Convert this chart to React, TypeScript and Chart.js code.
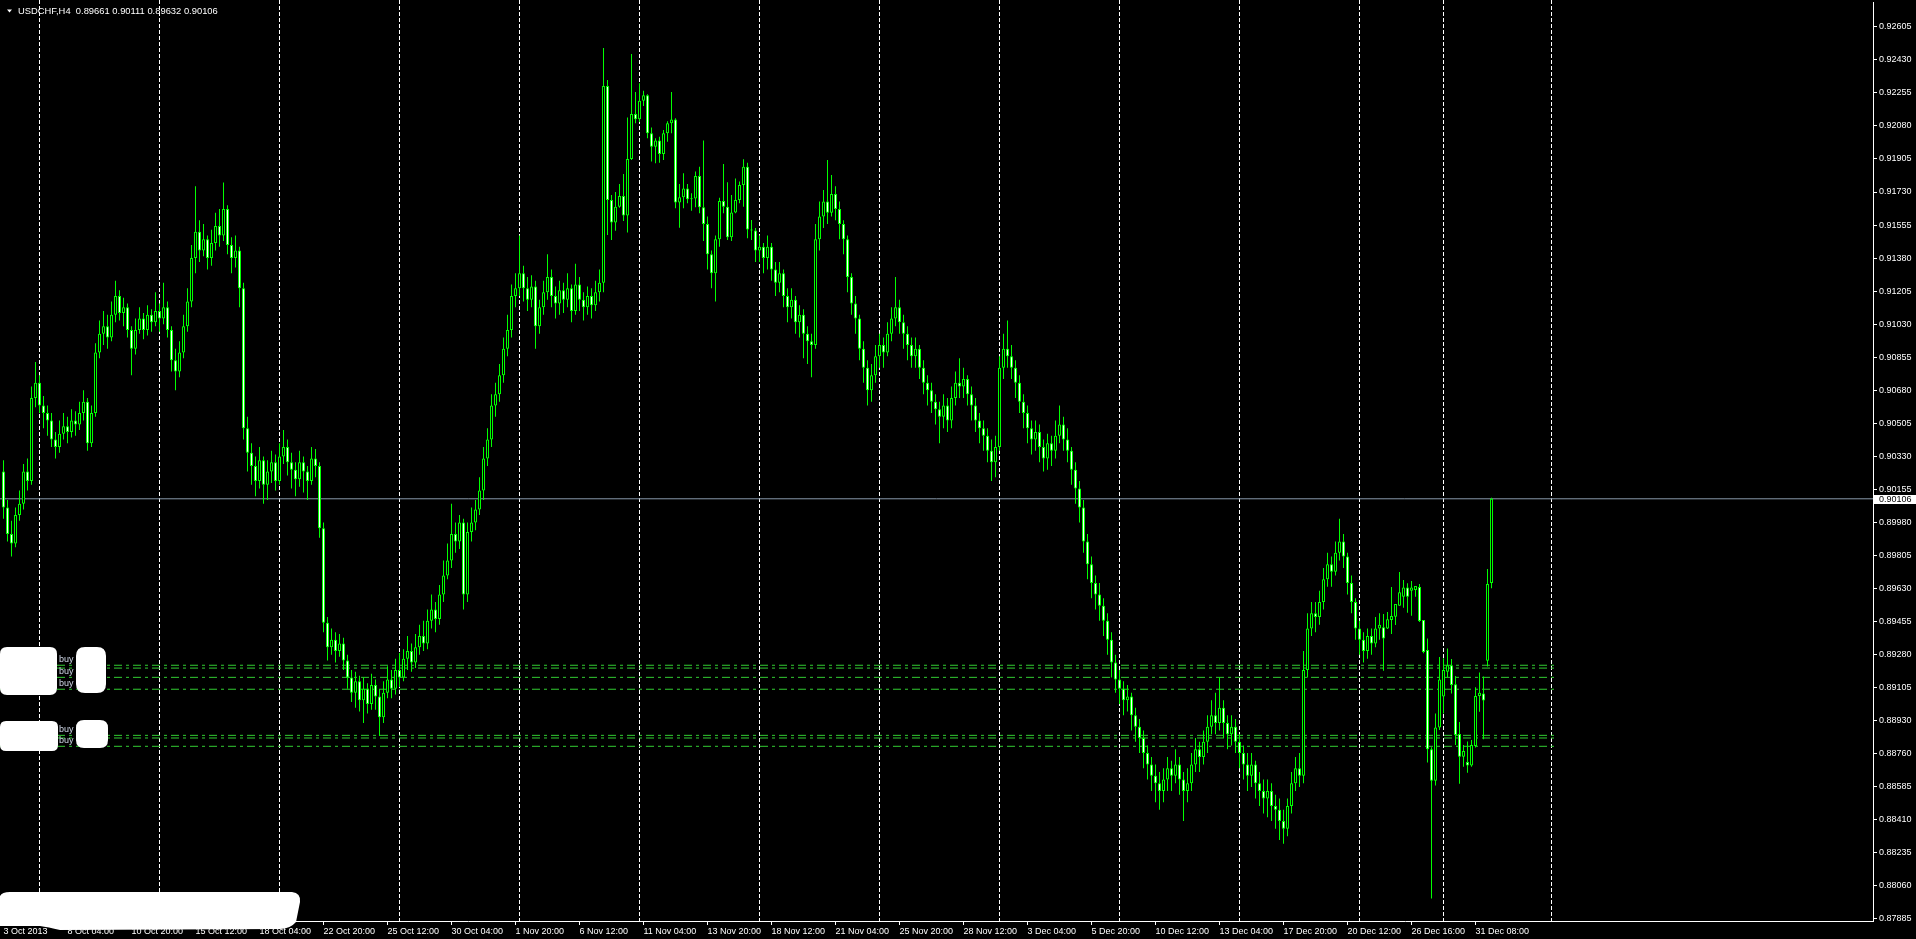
import React, { useEffect, useRef } from "react";
import Chart from "chart.js/auto";

// ---------------- DATA (prices in 1e-5 units, H4 bars) ----------------
const SYMBOL = "USDCHF";
const TIMEFRAME = "H4";

const opens = [
  90250, 90060, 89920, 89870, 90020, 90080, 90250, 90200, 90640, 90720,
  90600, 90560, 90520, 90420, 90380, 90450, 90490, 90460, 90520, 90500,
  90560, 90620, 90400, 90560, 90880, 90980, 91020, 90960, 91080, 91180,
  91090, 91120, 91000, 90900, 91000, 91060, 91000, 91080, 91040, 91100,
  91060, 91120, 91000, 90840, 90780, 90880, 91020, 91150, 91380, 91520,
  91420, 91480, 91380, 91460, 91550, 91500, 91640, 91450, 91380, 91420,
  91220, 90480, 90350, 90280, 90200, 90310, 90180, 90250, 90300, 90200,
  90330, 90380, 90300, 90260, 90210, 90300, 90250, 90200, 90320, 90280,
  89950, 89450, 89320, 89360, 89300, 89340, 89250, 89160, 89080, 89140,
  89040, 89100, 89020, 89120, 89060, 88950, 89080, 89150, 89100, 89200,
  89160, 89260, 89300, 89240, 89320, 89380, 89340, 89460, 89520, 89470,
  89600, 89700, 89780, 89920, 89880, 89980, 89600, 89930, 89980, 90050,
  90150, 90320, 90420, 90600, 90660, 90760, 90900, 91000, 91180, 91220,
  91300, 91220, 91160, 91230, 91020, 91120, 91200, 91280, 91180, 91140,
  91210, 91160, 91220, 91100, 91240, 91160, 91120, 91180, 91130, 91200,
  91250, 92291, 91688, 91568, 91652, 91709, 91605, 91905, 92143, 92115,
  92213, 92242, 92041, 91970, 92002, 91931, 92041, 92094, 92114, 91674,
  91702, 91749, 91691, 91696, 91815, 91649, 91561, 91400, 91300, 91480,
  91682, 91652, 91490, 91622, 91688, 91767, 91864, 91532, 91526, 91420,
  91440, 91380, 91440, 91320, 91250, 91300, 91180, 91120, 91160, 91040,
  91080, 90980, 90940, 90920, 91480, 91600, 91680, 91620, 91720, 91640,
  91560, 91480, 91280, 91140, 91060, 90900, 90800, 90680, 90760, 90860,
  90920, 90880, 90980, 91060, 91120, 91040, 90980, 90920, 90860, 90900,
  90800, 90720, 90680, 90620, 90580, 90540, 90600, 90520, 90640, 90720,
  90700, 90740, 90660, 90600, 90520, 90480, 90440, 90360, 90300, 90380,
  90800, 90900, 90860, 90800, 90720, 90620, 90560, 90480, 90420, 90460,
  90380, 90320, 90400, 90360, 90440, 90500, 90420, 90360, 90260, 90160,
  90060, 89880, 89760, 89660, 89600, 89540, 89460, 89360, 89240, 89150,
  89100, 89040, 89060, 88960, 88900, 88840, 88760, 88700, 88640, 88600,
  88560, 88620, 88680, 88640, 88700, 88620, 88560, 88600, 88700, 88780,
  88740, 88820, 88900, 88960, 88920, 89000, 88920, 88860, 88900, 88820,
  88760, 88700, 88640, 88700, 88600, 88560, 88520, 88560, 88480, 88460,
  88400, 88360, 88480, 88600, 88680, 88640, 89200, 89420, 89500, 89480,
  89560, 89680, 89760, 89720, 89820, 89880, 89800, 89660, 89560, 89420,
  89360, 89300, 89380, 89340, 89420, 89426, 89420, 89464, 89482, 89540,
  89588, 89637, 89620, 89623, 89639, 89464, 89306, 88780, 88614, 88896,
  89059, 89191, 89225, 89124, 88861, 88741, 88713, 88694, 88798, 89062,
  89076, 89249, 89661,
];

const highs = [
  90310, 90100, 89990, 90060, 90150, 90290, 90320, 90700, 90830, 90760,
  90650, 90600, 90560, 90460, 90520, 90560, 90540, 90580, 90570, 90620,
  90680, 90640, 90600, 90930, 91050, 91100, 91080, 91150, 91260, 91210,
  91170, 91140, 91020, 91060, 91120, 91090, 91130, 91110, 91200, 91140,
  91250, 91150, 91020, 90900, 90940, 91080, 91220, 91450, 91760, 91580,
  91560, 91500, 91530, 91620, 91640, 91780, 91660, 91490, 91500, 91440,
  91250, 90540, 90400, 90330, 90380, 90330, 90310, 90360, 90340, 90400,
  90470, 90420, 90350, 90300, 90360, 90330, 90280, 90380, 90370, 90300,
  89980, 89480, 89420, 89400, 89390, 89370, 89280, 89200, 89190, 89170,
  89160, 89130, 89180, 89150, 89100, 89140, 89220, 89200, 89260, 89290,
  89310, 89380, 89340, 89390, 89440, 89460, 89520, 89600, 89560, 89650,
  89780, 89870, 90080, 89980, 90020, 90000, 89980, 90060, 90100, 90220,
  90380, 90480, 90660, 90720, 90820, 90960, 91080, 91240, 91300, 91500,
  91340, 91280, 91290, 91260, 91160, 91260, 91400, 91320, 91230, 91260,
  91250, 91300, 91240, 91350, 91280, 91200, 91230, 91220, 91260, 91320,
  92492, 92323, 91714, 91730, 91772, 91825, 92125, 92460, 92259, 92305,
  92266, 92248, 92072, 92014, 92023, 92058, 92104, 92259, 92120, 91772,
  91829, 91772, 91723, 91838, 91864, 92002, 91600, 91420, 91500, 91700,
  91878, 91781, 91714, 91802, 91785, 91903, 91885, 91582, 91540, 91500,
  91460, 91500, 91460, 91360, 91360, 91320, 91220, 91220, 91180, 91130,
  91110, 91020, 90980, 91560, 91680, 91740, 91900, 91820, 91760, 91680,
  91580, 91500, 91300, 91180, 91080, 90940, 90840, 90820, 90920, 90980,
  90960, 91040, 91120, 91280, 91160, 91080, 91020, 90960, 90960, 90920,
  90840, 90760, 90720, 90660, 90620, 90660, 90640, 90700, 90780, 90850,
  90800, 90760, 90700, 90640, 90560, 90520, 90480, 90420, 90440, 90860,
  90980, 91050, 90920, 90840, 90760, 90660, 90600, 90520, 90520, 90500,
  90420, 90450, 90440, 90520, 90600, 90540, 90480, 90380, 90300, 90200,
  90100, 89920, 89800, 89700, 89660, 89580, 89500, 89400, 89280, 89200,
  89140, 89120, 89080, 89000, 88940, 88880, 88800, 88740, 88700, 88660,
  88680, 88740, 88720, 88780, 88740, 88660, 88680, 88760, 88840, 88820,
  88880, 88960, 89040, 89080, 89160, 89040, 88960, 88960, 88940, 88860,
  88800, 88760, 88760, 88720, 88660, 88620, 88620, 88600, 88540, 88520,
  88460, 88520, 88660, 88740, 88760, 89300, 89500, 89560, 89560, 89620,
  89740, 89820, 89800, 89880, 90000, 89920, 89820, 89700, 89580, 89460,
  89400, 89420, 89420, 89480, 89500, 89496, 89507, 89639, 89549, 89719,
  89676, 89659, 89671, 89644, 89655, 89464, 89367, 88791, 88970, 89269,
  89262, 89314, 89258, 89168, 88925, 88803, 88821, 88829, 89108, 89186,
  89166, 89734, 90111,
];

const lows = [
  90000, 89880, 89800, 89850, 89990, 90050, 90150, 90180, 90590, 90560,
  90480, 90440, 90380, 90320, 90350, 90420, 90400, 90430, 90440, 90470,
  90520, 90360, 90380, 90540, 90850, 90920, 90900, 90940, 91040, 91050,
  91020, 90960, 90760, 90870, 90980, 90950, 90970, 90990, 91020, 90990,
  91030, 90960, 90780, 90680, 90750, 90850, 90990, 91120, 91300, 91360,
  91390, 91320, 91340, 91420, 91440, 91470, 91400, 91300, 91330, 91120,
  90420, 90250, 90180, 90120, 90160, 90080, 90100, 90190, 90150, 90180,
  90290, 90230, 90160, 90120, 90170, 90140, 90100, 90180, 90220, 89900,
  89400, 89250, 89280, 89240, 89270, 89200, 89100, 89030, 89000, 88980,
  88920, 88970, 88990, 88990, 88850, 88920, 89050, 89050, 89070, 89110,
  89140, 89200, 89190, 89210, 89280, 89300, 89310, 89420, 89400, 89440,
  89560, 89680, 89740, 89820, 89840, 89520, 89560, 89880, 89940, 90020,
  90100, 90280, 90380, 90540, 90620, 90720, 90860, 90960, 91120, 91180,
  91150, 91100, 91120, 90900, 90980, 91080, 91160, 91120, 91060, 91080,
  91090, 91120, 91040, 91080, 91100, 91050, 91080, 91060, 91100, 91150,
  91200, 91502, 91476, 91525, 91647, 91577, 91515, 91900, 92094, 92100,
  92185, 92014, 91891, 91882, 91885, 91900, 91996, 92041, 91644, 91541,
  91644, 91670, 91631, 91649, 91617, 91470, 91320, 91220, 91150, 91440,
  91617, 91476, 91470, 91617, 91670, 91652, 91485, 91476, 91360, 91360,
  91300, 91320, 91260, 91180, 91200, 91120, 91040, 91060, 90980, 90960,
  90850, 90820, 90750, 90900, 91420, 91540, 91560, 91600, 91580, 91480,
  91400, 91200, 91080, 90980, 90840, 90720, 90600, 90620, 90720, 90800,
  90800, 90860, 90940, 91020, 90980, 90900, 90840, 90800, 90800, 90740,
  90660, 90600, 90560, 90500, 90400, 90480, 90460, 90480, 90600, 90640,
  90640, 90600, 90520, 90460, 90400, 90360, 90300, 90200, 90220, 90360,
  90740, 90800, 90740, 90640, 90560, 90480, 90400, 90340, 90360, 90300,
  90250, 90260, 90280, 90320, 90400, 90360, 90300, 90180, 90080, 89980,
  89820, 89680, 89580, 89520, 89460, 89380, 89280, 89160, 89080, 89020,
  88960, 88980, 88880, 88820, 88760, 88680, 88620, 88560, 88500, 88460,
  88500, 88560, 88560, 88600, 88540, 88400, 88500, 88560, 88660, 88660,
  88700, 88760, 88860, 88860, 88880, 88840, 88780, 88800, 88760, 88680,
  88620, 88560, 88580, 88520, 88480, 88440, 88420, 88400, 88360, 88300,
  88280, 88320, 88440, 88560, 88580, 88600, 89160, 89380, 89400, 89440,
  89520, 89640, 89640, 89700, 89780, 89740, 89600, 89500, 89360, 89280,
  89240, 89260, 89280, 89320, 89360, 89196, 89417, 89390, 89438, 89540,
  89530, 89503, 89487, 89588, 89454, 89288, 88710, 87990, 88588, 88882,
  88970, 89161, 89076, 88803, 88598, 88688, 88656, 88688, 88789, 88979,
  88833, 89218, 89632,
];

const closes = [
  90060, 89920, 89870, 90020, 90080, 90250, 90200, 90640, 90720, 90600,
  90560, 90520, 90420, 90380, 90450, 90490, 90460, 90520, 90500, 90560,
  90620, 90400, 90560, 90880, 90980, 91020, 90960, 91080, 91180, 91090,
  91120, 91000, 90900, 91000, 91060, 91000, 91080, 91040, 91100, 91060,
  91120, 91000, 90840, 90780, 90880, 91020, 91150, 91380, 91520, 91420,
  91480, 91380, 91460, 91550, 91500, 91640, 91450, 91380, 91420, 91220,
  90480, 90350, 90280, 90200, 90310, 90180, 90250, 90300, 90200, 90330,
  90380, 90300, 90260, 90210, 90300, 90250, 90200, 90320, 90280, 89950,
  89450, 89320, 89360, 89300, 89340, 89250, 89160, 89080, 89140, 89040,
  89100, 89020, 89120, 89060, 88950, 89080, 89150, 89100, 89200, 89160,
  89260, 89300, 89240, 89320, 89380, 89340, 89460, 89520, 89470, 89600,
  89700, 89780, 89920, 89880, 89980, 89600, 89930, 89980, 90050, 90150,
  90320, 90420, 90600, 90660, 90760, 90900, 91000, 91180, 91220, 91300,
  91220, 91160, 91230, 91020, 91120, 91200, 91280, 91180, 91140, 91210,
  91160, 91220, 91100, 91240, 91160, 91120, 91180, 91130, 91200, 91250,
  92291, 91688, 91568, 91652, 91709, 91605, 91905, 92143, 92115, 92213,
  92242, 92041, 91970, 92002, 91931, 92041, 92094, 92114, 91674, 91702,
  91749, 91691, 91696, 91815, 91649, 91561, 91400, 91300, 91480, 91682,
  91652, 91490, 91622, 91688, 91767, 91864, 91532, 91526, 91420, 91440,
  91380, 91440, 91320, 91250, 91300, 91180, 91120, 91160, 91040, 91080,
  90980, 90940, 90920, 91480, 91600, 91680, 91620, 91720, 91640, 91560,
  91480, 91280, 91140, 91060, 90900, 90800, 90680, 90760, 90860, 90920,
  90880, 90980, 91060, 91120, 91040, 90980, 90920, 90860, 90900, 90800,
  90720, 90680, 90620, 90580, 90540, 90600, 90520, 90640, 90720, 90700,
  90740, 90660, 90600, 90520, 90480, 90440, 90360, 90300, 90380, 90800,
  90900, 90860, 90800, 90720, 90620, 90560, 90480, 90420, 90460, 90380,
  90320, 90400, 90360, 90440, 90500, 90420, 90360, 90260, 90160, 90060,
  89880, 89760, 89660, 89600, 89540, 89460, 89360, 89240, 89150, 89100,
  89040, 89060, 88960, 88900, 88840, 88760, 88700, 88640, 88600, 88560,
  88620, 88680, 88640, 88700, 88620, 88560, 88600, 88700, 88780, 88740,
  88820, 88900, 88960, 88920, 89000, 88920, 88860, 88900, 88820, 88760,
  88700, 88640, 88700, 88600, 88560, 88520, 88560, 88480, 88460, 88400,
  88360, 88480, 88600, 88680, 88640, 89200, 89420, 89500, 89480, 89560,
  89680, 89760, 89720, 89820, 89880, 89800, 89660, 89560, 89420, 89360,
  89300, 89380, 89340, 89420, 89440, 89366, 89468, 89486, 89549, 89611,
  89637, 89588, 89637, 89644, 89459, 89295, 88780, 88614, 88896, 89150,
  89200, 89225, 89120, 88856, 88741, 88771, 88694, 88803, 89062, 89080,
  89038, 89655, 90106,
];

// time-axis labels (one every 16 bars) and the bar index each sits on
const timeLabels = [
  "3 Oct 2013", "8 Oct 04:00", "10 Oct 20:00", "15 Oct 12:00", "18 Oct 04:00",
  "22 Oct 20:00", "25 Oct 12:00", "30 Oct 04:00", "1 Nov 20:00", "6 Nov 12:00",
  "11 Nov 04:00", "13 Nov 20:00", "18 Nov 12:00", "21 Nov 04:00", "25 Nov 20:00",
  "28 Nov 12:00", "3 Dec 04:00", "5 Dec 20:00", "10 Dec 12:00", "13 Dec 04:00",
  "17 Dec 20:00", "20 Dec 12:00", "26 Dec 16:00", "31 Dec 08:00",
];
const labelBars = [
  0, 16, 32, 48, 64, 80, 96, 112, 128, 144, 160, 176,
  192, 208, 224, 240, 256, 272, 288, 304, 320, 336, 352, 368,
];
// vertical period separators (bar index)
const gridBars = [9, 39, 69, 99, 129, 159, 189, 219, 249, 279, 309, 339, 360, 387];

// price-scale labels
const priceTicks = [
  0.92605, 0.9243, 0.92255, 0.9208, 0.91905, 0.9173, 0.91555, 0.9138, 0.91205, 0.9103,
  0.90855, 0.9068, 0.90505, 0.9033, 0.90155, 0.8998, 0.89805, 0.8963, 0.89455, 0.8928,
  0.89105, 0.8893, 0.8876, 0.88585, 0.8841, 0.88235, 0.8806, 0.87885,
];

const bidPrice = 0.90106;
// open "buy" order levels
const buyLevels = [0.89225, 0.8921, 0.89161, 0.89098, 0.88854, 0.8884, 0.88796];
const buyLabelLevels = [0.89225, 0.89161, 0.89098, 0.88854, 0.88796];

// ---------------- STYLE ----------------
const FONT = "'Liberation Sans', Arial, sans-serif";
const CANDLE = "#00ff00";
const BUY_LINE = "#32cd32";
const BID_LINE = "#8899aa";
const X_MIN = -0.875;
const X_MAX = 467.375;
const Y_MIN = 0.878713;
const Y_MAX = 0.927357;
const BUY_LINE_END = 388.4;

const redactions = [
  { x: 0, y: 647, w: 57, h: 48, r: 7 },
  { x: 76, y: 647, w: 30, h: 46, r: 9 },
  { x: 0, y: 721, w: 58, h: 30, r: 6 },
  { x: 76, y: 720, w: 32, h: 28, r: 8 },
];

function roundRect(ctx: CanvasRenderingContext2D, x: number, y: number, w: number, h: number, r: number) {
  ctx.beginPath();
  ctx.moveTo(x + r, y);
  ctx.lineTo(x + w - r, y);
  ctx.quadraticCurveTo(x + w, y, x + w, y + r);
  ctx.lineTo(x + w, y + h - r);
  ctx.quadraticCurveTo(x + w, y + h, x + w - r, y + h);
  ctx.lineTo(x + r, y + h);
  ctx.quadraticCurveTo(x, y + h, x, y + h - r);
  ctx.lineTo(x, y + r);
  ctx.quadraticCurveTo(x, y, x + r, y);
  ctx.closePath();
  ctx.fill();
}

const mtDecor = {
  id: "mtDecor",
  beforeDatasetsDraw(chart: any) {
    const { ctx, chartArea, scales } = chart;
    const xs = scales.x;
    ctx.save();
    ctx.strokeStyle = "#ffffff";
    ctx.lineWidth = 1;
    ctx.setLineDash([4, 2]);
    for (const b of gridBars) {
      const px = Math.round(xs.getPixelForValue(b) - 0.5) + 0.5;
      if (px > chartArea.right) continue;
      ctx.beginPath();
      ctx.moveTo(px, 0);
      ctx.lineTo(px, chartArea.bottom);
      ctx.stroke();
    }
    ctx.restore();
  },
  afterDraw(chart: any) {
    const { ctx, scales } = chart;
    const ys = scales.y;
    ctx.save();
    // order labels
    ctx.font = `9px ${FONT}`;
    ctx.textAlign = "left";
    ctx.textBaseline = "alphabetic";
    ctx.fillStyle = "#d0d8e8";
    for (const lv of buyLabelLevels) {
      ctx.fillText("buy", 59, Math.round(ys.getPixelForValue(lv)) - 3);
    }
    // white redaction marks
    ctx.fillStyle = "#ffffff";
    for (const b of redactions) roundRect(ctx, b.x, b.y, b.w, b.h, b.r);
    ctx.beginPath();
    ctx.moveTo(0, 896);
    ctx.quadraticCurveTo(2, 892, 10, 892);
    ctx.lineTo(292, 892);
    ctx.quadraticCurveTo(301, 893, 300, 902);
    ctx.lineTo(296, 922);
    ctx.quadraticCurveTo(290, 929, 280, 929);
    ctx.lineTo(60, 930);
    ctx.quadraticCurveTo(48, 927, 40, 926);
    ctx.lineTo(0, 926);
    ctx.closePath();
    ctx.fill();
    // header
    ctx.fillStyle = "#ffffff";
    ctx.beginPath();
    ctx.moveTo(7, 9.5);
    ctx.lineTo(12, 9.5);
    ctx.lineTo(9.5, 12.5);
    ctx.closePath();
    ctx.fill();
    const n = closes.length - 1;
    const f = (v: number) => (v / 100000).toFixed(5);
    ctx.font = `9.4px ${FONT}`;
    ctx.textBaseline = "alphabetic";
    ctx.fillText(
      `${SYMBOL},${TIMEFRAME}  ${f(opens[n])} ${f(highs[n])} ${f(lows[n])} ${f(closes[n])}`,
      18,
      14
    );
    // bid price box on the price scale
    ctx.font = `9px ${FONT}`;
    const by = Math.round(ys.getPixelForValue(bidPrice));
    ctx.fillStyle = "#ffffff";
    ctx.fillRect(1874, by - 4, 42, 9);
    ctx.fillStyle = "#000000";
    ctx.textBaseline = "middle";
    ctx.fillText(bidPrice.toFixed(5), 1879, by + 0.5);
    ctx.restore();
  },
};

export default function App() {
  const ref = useRef<HTMLCanvasElement>(null);

  useEffect(() => {
    document.body.style.margin = "0";
    document.body.style.background = "#000";
    const canvas = ref.current;
    if (!canvas) return;
    const idx = closes.map((_, i) => i);
    const p = (v: number) => v / 100000;

    const bodyData = idx.map((i) => ({ x: i, y: [p(opens[i]), p(closes[i])] }));
    const wickData = idx.map((i) => ({ x: i, y: [p(lows[i]), p(highs[i])] }));
    const bodyFill = idx.map((i) => (closes[i] >= opens[i] ? "#000000" : "#ffffff"));

    const lineDatasets: any[] = buyLevels.map((lv) => ({
      type: "line",
      data: [
        { x: X_MIN, y: lv },
        { x: BUY_LINE_END, y: lv },
      ],
      borderColor: BUY_LINE,
      borderWidth: 1,
      borderDash: [8, 4, 3, 4],
      pointRadius: 0,
      pointHoverRadius: 0,
      fill: false,
      order: 3,
    }));

    const chart = new Chart(canvas, {
      type: "bar",
      data: {
        datasets: [
          {
            data: bodyData as any,
            backgroundColor: bodyFill,
            borderColor: CANDLE,
            borderWidth: 1,
            borderSkipped: false,
            barThickness: 3,
            minBarLength: 1,
            grouped: false,
            inflateAmount: 0,
            order: 0,
          } as any,
          {
            data: wickData as any,
            backgroundColor: CANDLE,
            borderWidth: 0,
            barThickness: 1,
            grouped: false,
            inflateAmount: 0,
            order: 1,
          } as any,
          ...lineDatasets,
          {
            type: "line",
            data: [
              { x: X_MIN, y: bidPrice },
              { x: X_MAX, y: bidPrice },
            ],
            borderColor: BID_LINE,
            borderWidth: 1,
            pointRadius: 0,
            pointHoverRadius: 0,
            fill: false,
            order: 4,
          } as any,
        ],
      },
      options: {
        responsive: false,
        maintainAspectRatio: false,
        devicePixelRatio: 1,
        animation: false,
        events: [],
        layout: { padding: { top: 2, left: 0, right: 0, bottom: 0 } },
        plugins: {
          legend: { display: false },
          tooltip: { enabled: false },
          title: { display: false },
        },
        scales: {
          x: {
            type: "linear",
            min: X_MIN,
            max: X_MAX,
            offset: false,
            afterBuildTicks: (s: any) => {
              s.ticks = labelBars.map((v) => ({ value: v }));
            },
            afterFit: (s: any) => {
              s.height = 18;
              s.paddingLeft = 0;
              s.paddingRight = 0;
            },
            ticks: {
              autoSkip: false,
              maxRotation: 0,
              minRotation: 0,
              align: "start",
              padding: 1,
              color: "#ffffff",
              font: { family: FONT, size: 9 },
              callback: (_v: any, i: number) => timeLabels[i] ?? "",
            },
            grid: {
              display: true,
              offset: false,
              drawOnChartArea: false,
              drawTicks: true,
              tickLength: 4,
              tickColor: "#ffffff",
              color: "#ffffff",
            },
            border: { display: true, color: "#ffffff", width: 1 },
          },
          y: {
            type: "linear",
            position: "right",
            min: Y_MIN,
            max: Y_MAX,
            afterBuildTicks: (s: any) => {
              s.ticks = priceTicks.map((v) => ({ value: v }));
            },
            afterFit: (s: any) => {
              s.width = 43;
              s.paddingTop = 0;
              s.paddingBottom = 0;
            },
            ticks: {
              autoSkip: false,
              padding: 2,
              color: "#ffffff",
              font: { family: FONT, size: 9 },
              callback: (v: any) => Number(v).toFixed(5),
            },
            grid: {
              display: true,
              drawOnChartArea: false,
              drawTicks: true,
              tickLength: 4,
              tickColor: "#ffffff",
              color: "#ffffff",
            },
            border: { display: true, color: "#ffffff", width: 1 },
          },
        },
      } as any,
      plugins: [mtDecor],
    });

    return () => chart.destroy();
  }, []);

  return (
    <div style={{ width: 1916, height: 939, background: "#000" }}>
      <canvas ref={ref} width={1916} height={939} style={{ display: "block" }} />
    </div>
  );
}
